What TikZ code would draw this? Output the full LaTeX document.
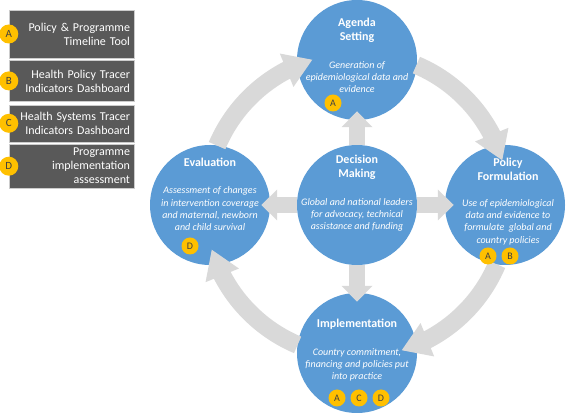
\documentclass[tikz,border=0pt]{standalone}
\usepackage{fontspec}
\setmainfont{Carlito}
\usetikzlibrary{positioning,arrows.meta,bending}
\definecolor{stageblue}{HTML}{5B9BD5}
\definecolor{ringgray}{HTML}{D9D9D9}
\definecolor{legendgray}{HTML}{595959}
\definecolor{badgegold}{HTML}{FFC000}
\definecolor{badgeink}{HTML}{404040}

\begin{document}
\begin{tikzpicture}[x=1pt,y=1pt]
	\tikzset{stage/.style={circle,fill=stageblue,minimum size=120pt,inner sep=0pt},
		stagetitle/.style={text=white,align=center,font=\fontsize{12}{14}\selectfont\bfseries},
		stagetext/.style={text=white,align=center,font=\fontsize{10}{12.3}\selectfont\itshape},
		badge/.style={circle,fill=badgegold,text=badgeink,minimum size=17pt,inner sep=0pt,font=\fontsize{10}{10}\selectfont},
		legendbadge/.style={minimum size=19pt,font=\fontsize{11}{11}\selectfont},
		legendbox/.style={fill=legendgray,draw=gray!40,line width=0.4pt,text=white,minimum width=125pt,text width=117pt,align=right,inner xsep=4pt,inner ysep=1pt,font=\fontsize{12}{14}\selectfont},
		ringarrow/.style={draw=ringgray,line width=18pt,-{Triangle[width=34pt,length=28pt]}},
		spoke/.style={draw=ringgray,line width=16pt,-{Triangle[width=30pt,length=16pt]},shorten >=-9pt}}
	\useasboundingbox (0,0) rectangle (567,414);
	% stages
	\node[stage] (as) at (357,354) {};
	\node[stage] (dm) at (357,209) {};
	\node[stage] (ev) at (210,209) {};
	\node[stage] (pf) at (505,209) {};
	\node[stage] (im) at (357,61) {};
	% arrows out of the centre
	\draw[spoke] (dm) -- (as);
	\draw[spoke] (dm) -- (pf);
	\draw[spoke] (dm) -- (im);
	\draw[spoke] (dm) -- (ev);
	% the cycle
	\draw[ringarrow] ([shift={(157:152pt)}]dm.center) arc[start angle=157,end angle=107,radius=152pt];
	\draw[ringarrow] ([shift={(67:152pt)}]dm.center) arc[start angle=67,end angle=17,radius=152pt];
	\draw[ringarrow] ([shift={(-23:152pt)}]dm.center) arc[start angle=-23,end angle=-73,radius=152pt];
	\draw[ringarrow] ([shift={(-113:152pt)}]dm.center) arc[start angle=-113,end angle=-163,radius=152pt];
	% texts
	\node[stagetitle] (ast) at ([yshift=30pt]as.center) {Agenda\\Setting};
	\node[stagetext] (asd) at ([yshift=-17pt]as.center) {Generation of\\epidemiological data and\\evidence};
	\node[stagetitle] (dmt) at ([yshift=38pt]dm.center) {Decision\\Making};
	\node[stagetext] (dmd) at ([yshift=-10pt]dm.center) {Global and national leaders\\for advocacy, technical\\assistance and funding};
	\node[stagetitle] (evt) at ([yshift=43pt]ev.center) {Evaluation};
	\node[stagetext] (evd) at ([yshift=-4pt]ev.center) {Assessment of changes\\in intervention coverage\\and maternal, newborn\\and child survival};
	\node[stagetitle] (pft) at ([shift={(3pt,36pt)}]pf.center) {Policy\\Formulation};
	\node[stagetext] (pfd) at ([shift={(3pt,-17pt)}]pf.center) {Use of epidemiological\\data and evidence to\\formulate\ \ global and\\country policies};
	\node[stagetitle] (imt) at ([yshift=29pt]im.center) {Implementation};
	\node[stagetext] (imd) at ([yshift=-12pt]im.center) {Country commitment,\\financing and policies put\\into practice};
	% tool badges
	\node[badge] at ([shift={(-24pt,-43pt)}]as.center) {A};
	\node[badge] at ([shift={(-20pt,-41pt)}]ev.center) {D};
	\node[badge] at ([shift={(-17pt,-51pt)}]pf.center) {A};
	\node[badge] at ([shift={(5pt,-51pt)}]pf.center) {B};
	\node[badge] at ([shift={(-20pt,-45pt)}]im.center) {A};
	\node[badge] at ([shift={(2pt,-45pt)}]im.center) {C};
	\node[badge] at ([shift={(24pt,-45pt)}]im.center) {D};
	% legend
	\node[legendbox,minimum height=48pt] (lt) at (71.5,380) {Policy \& Programme\\Timeline Tool};
	\node[legendbox,minimum height=41pt,below=2pt of lt] (lh) {Health Policy Tracer\\Indicators Dashboard};
	\node[legendbox,minimum height=37pt,below=3pt of lh] (ls) {Health Systems Tracer\\Indicators Dashboard};
	\node[legendbox,minimum height=44pt,below=2pt of ls] (lp) {Programme\\implementation\\assessment};
	\node[badge,legendbadge] at (lt.west) {A};
	\node[badge,legendbadge] at (lh.west) {B};
	\node[badge,legendbadge] at (ls.west) {C};
	\node[badge,legendbadge] at (lp.west) {D};
\end{tikzpicture}
\end{document}
